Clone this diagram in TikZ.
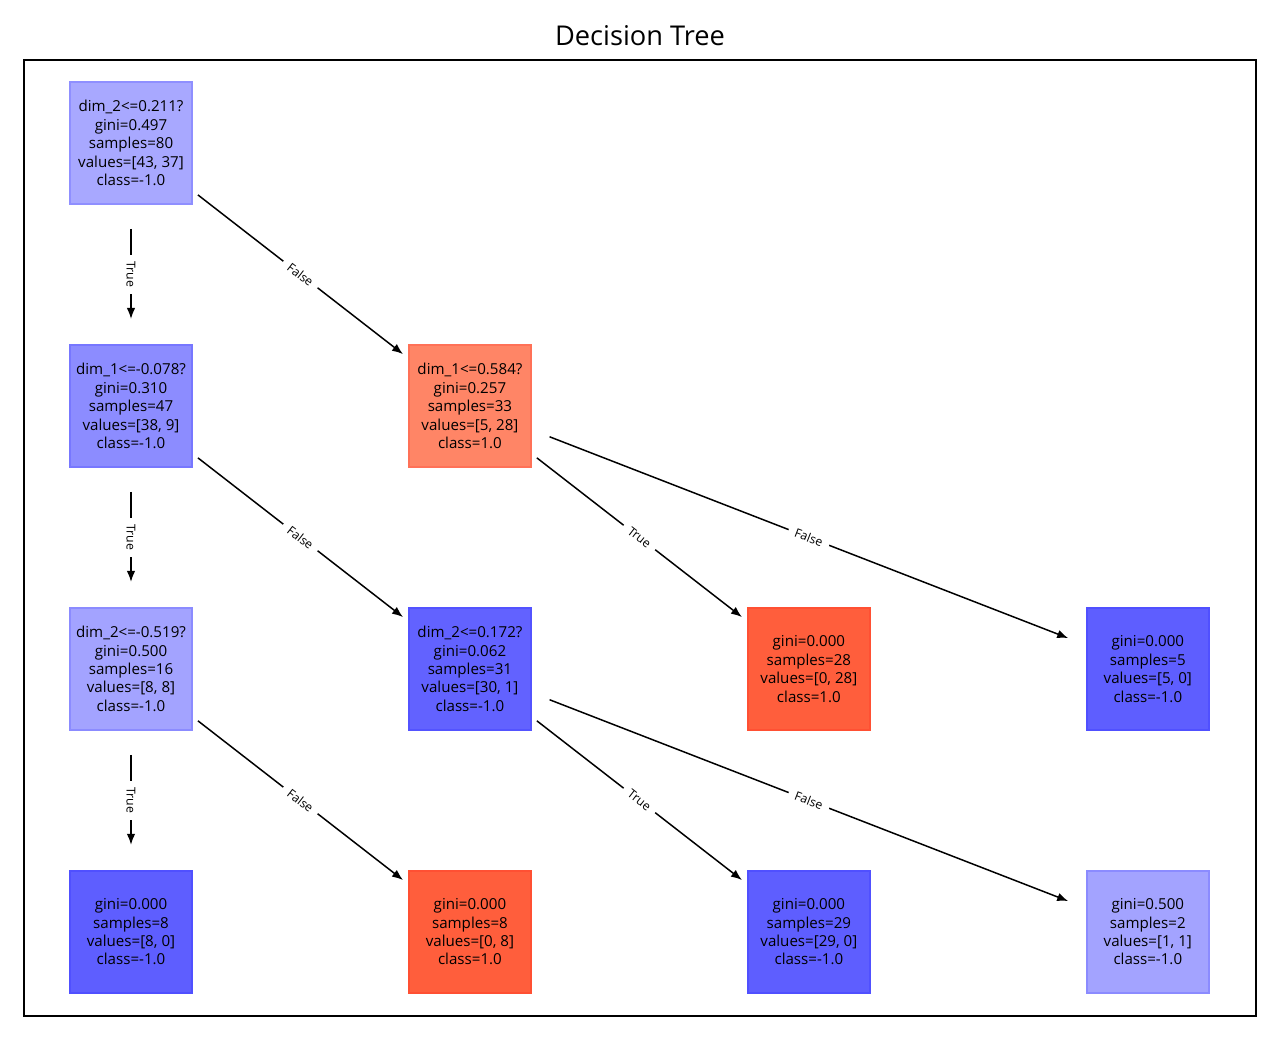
\documentclass[tikz,border=0pt]{standalone}
\usepackage{fontspec}
\setmainfont{Open Sans}
\usetikzlibrary{arrows.meta, positioning}

\definecolor{blueroot}{HTML}{A8A8FF}
\definecolor{bluemid}{HTML}{8C8CFF}
\definecolor{bluehalf}{HTML}{A3A3FF}
\definecolor{bluedeep}{HTML}{6262FF}
\definecolor{bluepure}{HTML}{5E5EFF}
\definecolor{redmid}{HTML}{FF8566}
\definecolor{redpure}{HTML}{FF5E3C}

\begin{document}
\begin{tikzpicture}[
        x=0.02cm, y=-0.02cm,
        node distance=5.26cm and 6.78cm, on grid,
        box/.style={minimum size=2.44cm, inner sep=0pt, outer sep=0pt, line width=0.8pt, align=center, font=\fontsize{8.6}{10.5}\selectfont},
        bx/.style={box, fill=#1, draw=#1!85!blue},
        rx/.style={box, fill=#1, draw=#1!85!red},
        arr/.style={-{Latex[length=0.22cm, width=0.17cm]}, line width=0.85pt},
        near/.style={arr, shorten <=0.15cm, shorten >=0.15cm},
        far/.style={arr, shorten <=0.4cm, shorten >=0.4cm},
        down/.style={arr, shorten <=0.5cm, shorten >=0.52cm},
        lbl/.style={midway, sloped, fill=white, inner xsep=4pt, inner ysep=2pt, font=\fontsize{7}{8}\selectfont}
    ]
        \useasboundingbox (0,0) rectangle (1280,1040);
        \node[font=\fontsize{15.5}{18}\selectfont] (title) at (640,36) {Decision Tree};
        \draw[line width=0.75pt] (24,60) rectangle (1256,1016);

        \node[bx=blueroot] (root) at (131,143) {dim\_2<=0.211?\\gini=0.497\\samples=80\\values=[43, 37]\\class=-1.0};
        \node[bx=bluemid, below=of root] (a) {dim\_1<=-0.078?\\gini=0.310\\samples=47\\values=[38, 9]\\class=-1.0};
        \node[rx=redmid, right=of a] (b) {dim\_1<=0.584?\\gini=0.257\\samples=33\\values=[5, 28]\\class=1.0};
        \node[bx=bluehalf, below=of a] (c) {dim\_2<=-0.519?\\gini=0.500\\samples=16\\values=[8, 8]\\class=-1.0};
        \node[bx=bluedeep, right=of c] (d) {dim\_2<=0.172?\\gini=0.062\\samples=31\\values=[30, 1]\\class=-1.0};
        \node[rx=redpure, right=of d] (e) {gini=0.000\\samples=28\\values=[0, 28]\\class=1.0};
        \node[bx=bluepure, right=of e] (f) {gini=0.000\\samples=5\\values=[5, 0]\\class=-1.0};
        \node[bx=bluepure, below=of c] (g) {gini=0.000\\samples=8\\values=[8, 0]\\class=-1.0};
        \node[rx=redpure, right=of g] (h) {gini=0.000\\samples=8\\values=[0, 8]\\class=1.0};
        \node[bx=bluepure, right=of h] (i) {gini=0.000\\samples=29\\values=[29, 0]\\class=-1.0};
        \node[bx=bluehalf, right=of i] (j) {gini=0.500\\samples=2\\values=[1, 1]\\class=-1.0};

        \draw[down] (root) -- (a) node[lbl] {True};
        \draw[near] (root) -- (b) node[lbl] {False};
        \draw[down] (a) -- (c) node[lbl] {True};
        \draw[near] (a) -- (d) node[lbl] {False};
        \draw[near] (b) -- (e) node[lbl] {True};
        \draw[far] (b) -- (f) node[lbl] {False};
        \draw[down] (c) -- (g) node[lbl] {True};
        \draw[near] (c) -- (h) node[lbl] {False};
        \draw[near] (d) -- (i) node[lbl] {True};
        \draw[far] (d) -- (j) node[lbl] {False};
    \end{tikzpicture}
\end{document}
